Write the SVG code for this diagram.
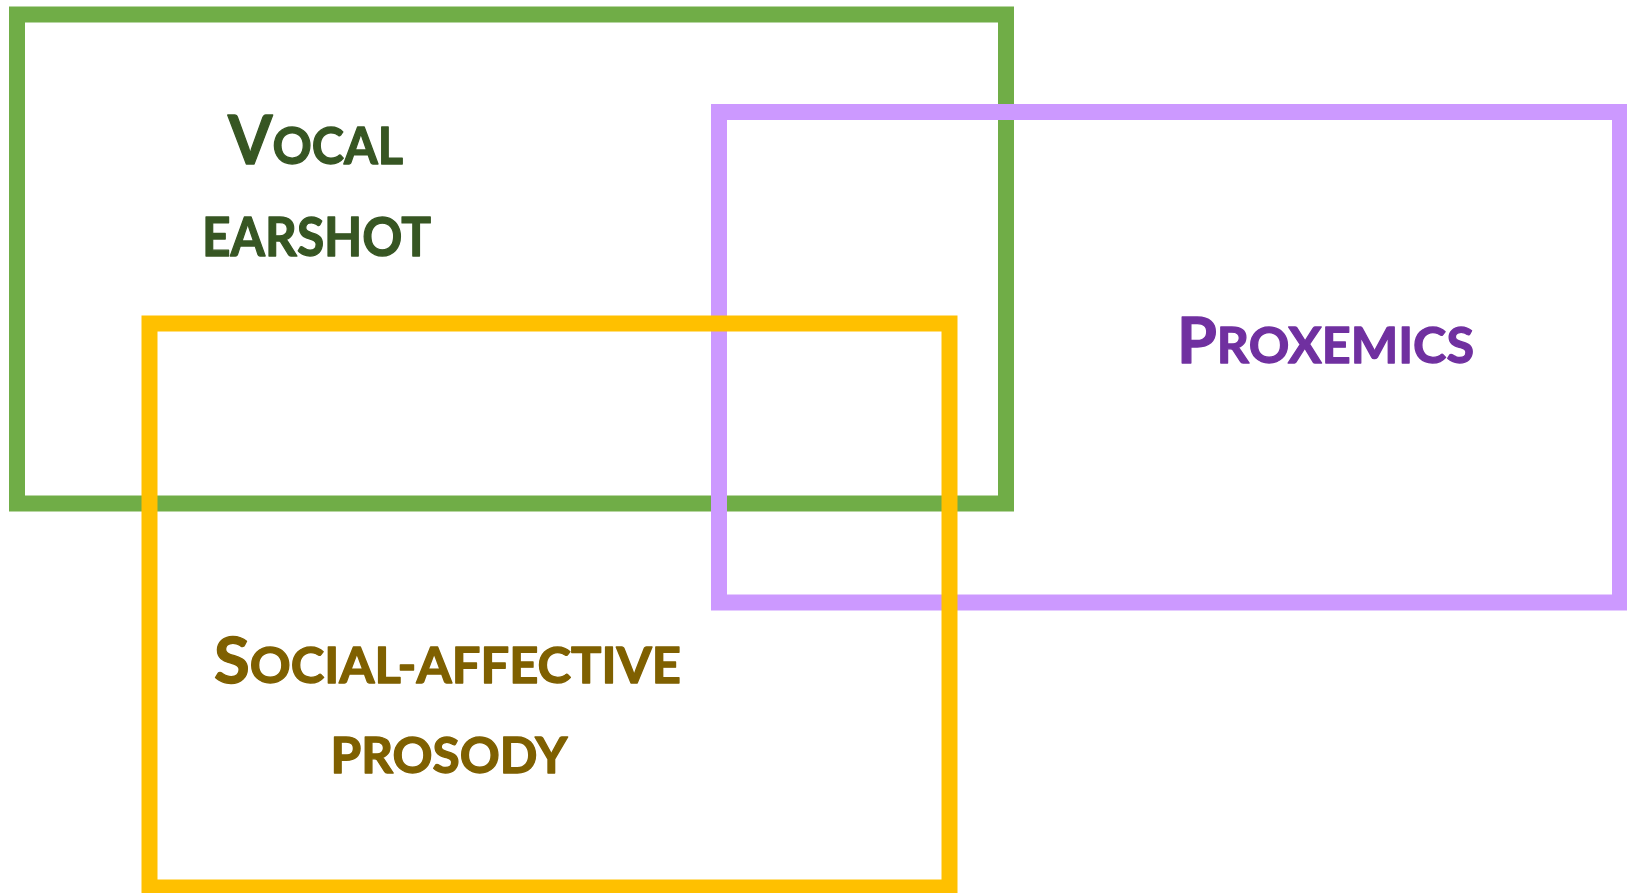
<svg xmlns="http://www.w3.org/2000/svg" width="1627" height="893" viewBox="0 0 1627 893">
<style>
  .box{fill:none;stroke-width:16}
  .lbl{font-family:Lato,"Liberation Sans",sans-serif;font-weight:700;stroke-width:1.3;stroke-linejoin:round}
  .g{fill:#375623;stroke:#375623}
  .p{fill:#7030A0;stroke:#7030A0}
  .y{fill:#7F6000;stroke:#7F6000}
</style>
<rect width="1627" height="893" fill="#ffffff"/>
<g id="vocal-earshot">
  <rect class="box" x="17" y="14.5" width="989" height="489" stroke="#70AD47"/>
  <text class="lbl g" x="228" y="164" font-size="51" textLength="175" lengthAdjust="spacingAndGlyphs"><tspan font-size="67">V</tspan>OCAL</text>
  <text class="lbl g" x="202" y="255.5" font-size="54" textLength="229" lengthAdjust="spacingAndGlyphs">EARSHOT</text>
</g>
<g id="proxemics">
  <rect class="box" x="719" y="112" width="901" height="490.5" stroke="#CC99FF"/>
  <text class="lbl p" x="1177" y="363.3" font-size="50" textLength="297" lengthAdjust="spacingAndGlyphs"><tspan font-size="64">P</tspan>ROXEMICS</text>
</g>
<g id="social-affective-prosody">
  <rect class="box" x="149.5" y="323.5" width="800" height="564" stroke="#FFC000"/>
  <text class="lbl y" x="214" y="682.7" font-size="49" textLength="467" lengthAdjust="spacingAndGlyphs"><tspan font-size="63">S</tspan>OCIAL-AFFECTIVE</text>
  <text class="lbl y" x="330.5" y="772.7" font-size="49" textLength="237" lengthAdjust="spacingAndGlyphs">PROSODY</text>
</g>
<g id="connectors"/>
</svg>
